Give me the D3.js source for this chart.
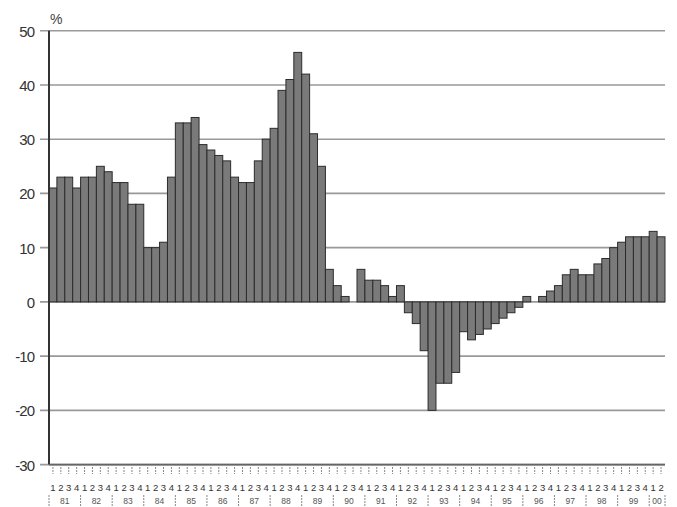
<!DOCTYPE html>
<html>
<head>
<meta charset="utf-8">
<script src="https://cdn.jsdelivr.net/npm/d3@7"></script>
<style>
  body { margin: 0; background: #fff; }
  svg { display: block; font-family: "Liberation Sans", Arial, sans-serif; }
</style>
</head>
<body>
<svg id="chart" width="677" height="507"></svg>
<script>
// years on the axis, 00 only has two quarters
var years = ['81','82','83','84','85','86','87','88','89','90','91','92','93','94','95','96','97','98','99','00'];
var quarters = ['1','2','3','4'];

// quarterly change, %
var values = [
	21, 23, 23, 21,
	23, 23, 25, 24,
	22, 22, 18, 18,
	10, 10, 11, 23,
	33, 33, 34, 29,
	28, 27, 26, 23,
	22, 22, 26, 30,
	32, 39, 41, 46,
	42, 31, 25, 6,
	3, 1, 0, 6,
	4, 4, 3, 1,
	3, -2, -4, -9,
	-20, -15, -15, -13,
	-5.5, -7, -6, -5,
	-4, -3, -2, -1,
	1, 0, 1, 2,
	3, 5, 6, 5,
	5, 7, 8, 10,
	11, 12, 12, 12,
	13, 12
];

var yTicks = [-30, -20, -10, 0, 10, 20, 30, 40, 50];

var data = values.map(function(v, i) {
	return { 'key': i, 'year': years[Math.floor(i / 4)], 'q': quarters[i % 4], 'value': v };
});

var svg = d3.select('#chart');
var plotL = 49, plotR = 665, plotT = 30.7, plotB = 464.6;

var x = d3.scaleBand()
	.domain(data.map(function(d) { return d.key; }))
	.range([plotL, plotR])
	.padding(0);

var y = d3.scaleLinear()
	.domain([-30, 50])
	.range([plotB, plotT]);

// gridlines (also make the little tick left of the axis)
svg.append('g')
	.selectAll('line')
	.data(yTicks)
	.enter().append('line')
	.attr('x1', 40)
	.attr('x2', plotR)
	.attr('y1', function(d) { return y(d); })
	.attr('y2', function(d) { return y(d); })
	.attr('stroke', '#999')
	.attr('stroke-width', 1.6);

// y labels
svg.append('g')
	.selectAll('text')
	.data(yTicks)
	.enter().append('text')
	.attr('x', 34)
	.attr('y', function(d) { return y(d) + 6; })
	.attr('text-anchor', 'end')
	.attr('font-size', 15)
	.attr('fill', '#333')
	.attr('letter-spacing', -1)
	.text(function(d) { return d; });

svg.append('text')
	.attr('x', 50)
	.attr('y', 24)
	.attr('font-size', 14)
	.attr('fill', '#444')
	.text('%');

// bars
svg.append('g')
	.selectAll('.bar')
	.data(data)
	.enter().append('rect')
	.attr('class', 'bar')
	.attr('x', function(d) { return x(d.key); })
	.attr('y', function(d) { return y(Math.max(0, d.value)); })
	.attr('width', x.bandwidth())
	.attr('height', function(d) { return Math.abs(y(d.value) - y(0)); })
	.attr('fill', '#7a7a7a')
	.attr('stroke', '#2c2c2c')
	.attr('stroke-width', 1);

// axes lines
svg.append('line')
	.attr('x1', plotL).attr('x2', plotL)
	.attr('y1', plotT).attr('y2', plotB)
	.attr('stroke', '#333')
	.attr('stroke-width', 2);

svg.append('line')
	.attr('x1', plotL).attr('x2', plotR)
	.attr('y1', plotB).attr('y2', plotB)
	.attr('stroke', '#666')
	.attr('stroke-width', 1.6);

// quarter ticks + labels
var bx = svg.append('g');
bx.selectAll('line')
	.data(data)
	.enter().append('line')
	.attr('x1', function(d) { return x(d.key) + x.bandwidth() / 2; })
	.attr('x2', function(d) { return x(d.key) + x.bandwidth() / 2; })
	.attr('y1', 467)
	.attr('y2', 474)
	.attr('stroke', '#888')
	.attr('stroke-width', 1)
	.attr('stroke-dasharray', '2,1');

bx.selectAll('text')
	.data(data)
	.enter().append('text')
	.attr('x', function(d) { return x(d.key) + x.bandwidth() / 2; })
	.attr('y', 491)
	.attr('text-anchor', 'middle')
	.attr('font-size', 9.5)
	.attr('fill', '#333')
	.text(function(d) { return d.q; });

// year labels with separators
var yg = svg.append('g');
var groups = years.map(function(yr) {
	var ks = data.filter(function(d) { return d.year == yr; });
	var x0 = x(ks[0].key), x1 = x(ks[ks.length - 1].key) + x.bandwidth();
	return { 'year': yr, 'x0': x0, 'x1': x1 };
});

yg.selectAll('text')
	.data(groups)
	.enter().append('text')
	.attr('x', function(d) { return (d.x0 + d.x1) / 2; })
	.attr('y', 504)
	.attr('text-anchor', 'middle')
	.attr('font-size', 8.5)
	.attr('fill', '#555')
	.text(function(d) { return d.year; });

var seps = groups.map(function(d) { return d.x0; }).concat([plotR]);
yg.selectAll('line')
	.data(seps)
	.enter().append('line')
	.attr('x1', function(d) { return d; })
	.attr('x2', function(d) { return d; })
	.attr('y1', 495)
	.attr('y2', 506)
	.attr('stroke', '#888')
	.attr('stroke-width', 1)
	.attr('stroke-dasharray', '2,1');
</script>
</body>
</html>
